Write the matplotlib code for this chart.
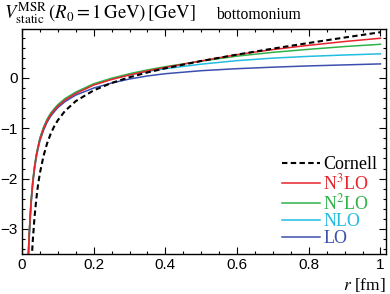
import matplotlib
matplotlib.use("Agg")
import matplotlib.pyplot as plt
from matplotlib.ticker import MultipleLocator

plt.rcParams['mathtext.fontset'] = 'stix'

# r in fm, potentials in GeV
r = [0.017, 0.02, 0.025, 0.03, 0.035, 0.04, 0.045, 0.05, 0.06, 0.07, 0.08, 0.09,
     0.1, 0.12, 0.15, 0.2, 0.25, 0.3, 0.35, 0.4, 0.5, 0.6, 0.7, 0.8, 0.9, 1.0]

r_cornell = [0.027, 0.03, 0.035, 0.04, 0.045, 0.05, 0.06, 0.07, 0.08, 0.09, 0.1,
             0.12, 0.15, 0.2, 0.25, 0.3, 0.35, 0.4, 0.5, 0.6, 0.7, 0.8, 0.9, 1.0]
v_cornell = [-3.61, -3.24, -2.76, -2.40, -2.11, -1.89, -1.55, -1.30, -1.11, -0.96, -0.84,
             -0.655, -0.46, -0.246, -0.099, 0.015, 0.11, 0.193, 0.3375, 0.465, 0.584,
             0.696, 0.8045, 0.91]

v_n3lo = [-3.62, -3.11, -2.49, -2.07, -1.77, -1.54, -1.37, -1.22, -1.01, -0.85, -0.73, -0.64,
          -0.56, -0.44, -0.31, -0.14, -0.03, 0.06, 0.14, 0.21, 0.34, 0.465, 0.565, 0.65,
          0.725, 0.79]
v_n2lo = [-3.62, -3.10, -2.47, -2.05, -1.75, -1.52, -1.35, -1.19, -0.98, -0.82, -0.70, -0.61,
          -0.53, -0.41, -0.28, -0.115, -0.005, 0.085, 0.16, 0.225, 0.335, 0.435, 0.51, 0.57,
          0.625, 0.67]
v_nlo = [-3.62, -3.10, -2.47, -2.06, -1.76, -1.53, -1.36, -1.20, -0.99, -0.83, -0.71, -0.62,
         -0.54, -0.42, -0.29, -0.13, -0.02, 0.065, 0.13, 0.185, 0.275, 0.345, 0.395, 0.43,
         0.457, 0.48]
v_lo = [-3.75, -3.22, -2.56, -2.12, -1.81, -1.58, -1.40, -1.25, -1.04, -0.88, -0.76, -0.67,
        -0.59, -0.47, -0.34, -0.20, -0.10, -0.02, 0.04, 0.085, 0.145, 0.185, 0.215, 0.24,
        0.26, 0.28]

series = [
    ('LO', v_lo, '#3d4fae'),
    ('NLO', v_nlo, '#22bde0'),
    (r'N$^2$LO', v_n2lo, '#2fb24a'),
    (r'N$^3$LO', v_n3lo, '#e8232b'),
]

fig = plt.figure(figsize=(3.9, 2.94), dpi=100)
ax = fig.add_axes([22 / 390, 40 / 294, 363.5 / 390, 224.7 / 294])

for name, v, col in series:
    ax.plot(r, v, color=col, lw=1.1, label=name)
ax.plot(r_cornell, v_cornell, color='black', lw=1.5, ls=(0, (2.6, 1.6)), label='Cornell')

ax.set_xlim(0, 1.014)
ax.set_ylim(-3.5, 0.968)
ax.xaxis.set_major_locator(MultipleLocator(0.2))
ax.xaxis.set_minor_locator(MultipleLocator(0.05))
ax.yaxis.set_major_locator(MultipleLocator(1))
ax.yaxis.set_minor_locator(MultipleLocator(0.2))
ax.xaxis.set_major_formatter(plt.FuncFormatter(lambda x, p: '0' if abs(x) < 1e-9 else ('1' if abs(x - 1) < 1e-9 else f'{x:.1f}')))
ax.yaxis.set_major_formatter(plt.FuncFormatter(lambda y, p: f'{int(round(y))}'.replace('-', '\u2212')))
ax.tick_params(which='both', direction='in', top=True, right=True, width=0.8)
ax.tick_params(which='major', length=5, labelsize=11, pad=3)
ax.tick_params(which='minor', length=2.5)
for lab in ax.get_xticklabels() + ax.get_yticklabels():
    lab.set_family('Liberation Sans')
for s in ax.spines.values():
    s.set_linewidth(1.0)

# legend: Cornell first, then N3LO ... LO
h, l = ax.get_legend_handles_labels()
order = [4, 3, 2, 1, 0]
leg = ax.legend([h[i] for i in order], [l[i] for i in order], loc='lower right',
                bbox_to_anchor=(0.977, 0.03), frameon=False, handlelength=2.1,
                handletextpad=0.2, labelspacing=0.0, borderaxespad=0, borderpad=0,
                prop={'family': 'Liberation Serif', 'size': 13})
for txt, i in zip(leg.get_texts(), order):
    txt.set_color(h[i].get_color())

fig.text(4 / 390, 1 - 19 / 294,
         r'$V^{\rm MSR}_{\rm static}\,(R_0 = 1\,{\rm GeV})\,[{\rm GeV}]$',
         fontsize=13.5, ha='left', va='baseline')
fig.text(216 / 390, 1 - 19 / 294, 'bottomonium', family='Liberation Serif',
         fontsize=11.3, ha='left', va='baseline')
fig.text(386 / 390, 1 - 290 / 294, r'$r$ [fm]', family='Liberation Serif',
         fontsize=12.5, ha='right', va='baseline')

fig.savefig('out.png', dpi=100)
